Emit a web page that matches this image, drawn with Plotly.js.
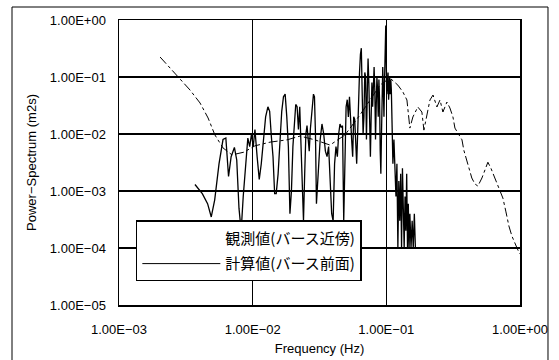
<!DOCTYPE html>
<html>
<head>
<meta charset="utf-8">
<script src="https://cdn.plot.ly/plotly-3.0.1.min.js"></script>
<style>html,body{margin:0;padding:0;background:#fff;}#chart{width:559px;height:360px;}</style>
</head>
<body>
<div id="chart"></div>
<script>
// Observed spectrum (観測値, バース近傍)
const obsFreq = [0.0037,0.0042,0.0046,0.0049,0.0052,0.0056,0.0060,0.0063,0.0066,0.0069,
  0.0073,0.0076,0.0079,0.0082,0.0085,0.0088,0.0092,0.0095,0.0098,0.0101,
  0.0104,0.0108,0.0112,0.0116,0.0120,0.0125,0.0130,0.0134,0.0138,0.0142,
  0.0146,0.0150,0.0155,0.0160,0.0165,0.0170,0.0175,0.0180,0.0185,0.0190,
  0.0195,0.0200,0.0205,0.0210,0.0215,0.0220,0.0225,0.0230,0.0235,0.0240,
  0.0245,0.0250,0.0255,0.0260,0.0265,0.0270,0.0275,0.0280,0.0285,0.0290,
  0.0295,0.0300,0.031,0.032,0.033,0.034,0.035,0.036,0.037,0.038,
  0.039,0.040,0.041,0.042,0.043,0.044,0.045,0.046,0.047,0.048,
  0.049,0.050,0.051,0.052,0.053,0.054,0.055,0.056,0.057,0.058,
  0.059,0.060,0.061,0.062,0.063,0.064,0.065,0.066,0.067,0.068,
  0.069,0.070,0.071,0.072,0.073,0.074,0.075,0.076,0.077,0.078,
  0.079,0.080,0.081,0.082,0.083,0.084,0.085,0.086,0.087,0.088,
  0.089,0.090,0.091,0.092,0.093,0.094,0.095,0.096,0.097,0.098,
  0.099,0.100,0.101,0.102,0.103,0.104,0.105,0.106,0.107,0.108,
  0.109,0.110,0.112,0.114,0.116,0.118,0.120,0.122,0.124,0.126,
  0.128,0.130,0.132,0.134,0.136,0.138,0.140,0.142,0.144,0.146,
  0.148,0.150,0.153,0.156,0.159,0.162,0.165];
const obsPower = [0.0013,0.0009,0.0006,0.00035,0.0007,0.003,0.008,0.0085,0.0018,0.004,
  0.0058,0.0035,0.0005,0.0002,0.0008,0.0025,0.0085,0.006,0.010,0.006,
  0.012,0.004,0.0016,0.003,0.008,0.02,0.03,0.025,0.009,0.004,
  0.0009,0.0009,0.002,0.008,0.025,0.045,0.05,0.02,0.006,0.0004,
  0.001,0.006,0.012,0.033,0.03,0.012,0.03,0.008,0.0012,0.0003,
  0.002,0.01,0.014,0.008,0.005,0.012,0.02,0.04,0.05,0.045,
  0.01,0.0006,0.003,0.008,0.015,0.01,0.005,0.004,0.006,0.002,
  0.0004,0.0003,0.003,0.006,0.004,0.01,0.015,0.013,0.014,0.0003,
  0.005,0.03,0.04,0.02,0.045,0.012,0.008,0.004,0.02,0.018,
  0.006,0.003,0.01,0.05,0.12,0.25,0.32,0.05,0.01,0.02,
  0.12,0.1,0.008,0.05,0.21,0.08,0.01,0.004,0.02,0.08,
  0.03,0.09,0.15,0.06,0.008,0.03,0.1,0.06,0.02,0.09,
  0.04,0.005,0.002,0.01,0.05,0.15,0.06,0.02,0.09,0.4,
  0.8,0.15,0.05,0.08,0.12,0.04,0.08,0.1,0.05,0.09,
  0.06,0.01,0.003,0.008,0.002,0.0008,0.003,0.0001,0.0015,0.0003,
  0.002,0.0001,0.0025,0.0003,0.0001,0.0008,0.0002,0.002,0.0001,0.0006,
  0.0001,0.0004,0.0001,0.0003,0.0001,0.0004,0.0001];

// Computed spectrum (計算値, バース前面)
const calcFreq = [0.00203,0.00262,0.0034,0.00404,0.00464,0.00522,0.0060,0.0070,0.0086,0.0104,
  0.0135,0.0181,0.0226,0.0292,0.0379,0.049,0.0635,0.0753,0.0895,0.1064,
  0.122,0.133,0.1426,0.150,0.158,0.172,0.1845,0.191,0.201,0.212,
  0.2235,0.239,0.252,0.265,0.284,0.299,0.315,0.326,0.343,0.368,
  0.38,0.394,0.407,0.421,0.436,0.46,0.484,0.519,0.546,0.575,
  0.605,0.638,0.672,0.708,0.745,0.785,0.826,0.87,0.916,0.964,1.0];
const calcPower = [0.224,0.117,0.059,0.035,0.0191,0.0096,0.0057,0.0043,0.0048,0.0062,
  0.0072,0.0079,0.0092,0.0079,0.0064,0.0096,0.0216,0.039,0.072,0.096,
  0.072,0.0546,0.0395,0.0127,0.0199,0.0298,0.0243,0.0117,0.0216,0.0395,
  0.0483,0.0298,0.0395,0.0243,0.0364,0.0286,0.0199,0.0127,0.0104,0.0079,
  0.0052,0.0038,0.0032,0.00233,0.00169,0.00133,0.00122,0.00169,0.00233,0.0032,
  0.00253,0.00183,0.00144,0.00104,0.00075,0.00043,0.000243,0.000162,0.000117,0.0000923,0.0000785];

const seriesNames = ['観測値(バース近傍)', '計算値(バース前面)'];
const xTickVals = [0.001, 0.01, 0.1, 1];
const xTickText = ['1.00E\u221203', '1.00E\u221202', '1.00E\u221201', '1.00E+00'];
const yTickVals = [1e-5, 1e-4, 1e-3, 1e-2, 1e-1, 1];
const yTickText = ['1.00E\u221205', '1.00E\u221204', '1.00E\u221203', '1.00E\u221202', '1.00E\u221201', '1.00E+00'];

const traces = [
  {x: calcFreq, y: calcPower, type: 'scatter', mode: 'lines', showlegend: false,
   line: {color: '#000', width: 1, dash: 'dashdot'}},
  {x: obsFreq, y: obsPower, type: 'scatter', mode: 'lines', showlegend: false,
   line: {color: '#000', width: 1.3}},
  {x: [null], y: [null], type: 'scatter', mode: 'lines', name: seriesNames[0], legendgroup: 'obs',
   line: {color: 'rgba(0,0,0,0)', width: 1}},
  {x: [null], y: [null], type: 'scatter', mode: 'lines', name: seriesNames[1], legendgroup: 'calc',
   line: {color: '#000', width: 1}}
];

const axisFont = {family: 'Liberation Sans, Arial, sans-serif', size: 13, color: '#000'};
const layout = {
  width: 559, height: 360,
  margin: {l: 119, r: 39, t: 20, b: 55, pad: 0},
  paper_bgcolor: '#fff', plot_bgcolor: '#fff',
  font: axisFont,
  xaxis: {
    type: 'log', range: [-3, 0], tickvals: xTickVals, ticktext: xTickText,
    showgrid: true, gridcolor: '#000', gridwidth: 1,
    showline: true, linecolor: '#000', linewidth: 1.5, mirror: true,
    zeroline: false, ticks: '', ticklabelstandoff: 12, tickfont: axisFont,
    title: {text: 'Frequency (Hz)', font: axisFont, standoff: 8}
  },
  yaxis: {
    type: 'log', range: [-5, 0], tickvals: yTickVals, ticktext: yTickText,
    showgrid: true, gridcolor: '#000', gridwidth: 1.5,
    showline: true, linecolor: '#000', linewidth: 1.5, mirror: true,
    zeroline: false, ticks: '', ticklabelstandoff: 9, tickfont: axisFont,
    title: {text: 'Power\u2212Spectrum (m2s)', font: axisFont, standoff: 10}
  },
  legend: {
    x: 0.042, y: 0.297, xanchor: 'left', yanchor: 'top',
    bgcolor: '#fff', bordercolor: '#000', borderwidth: 1.5,
    font: {family: 'Noto Sans CJK JP, sans-serif', size: 15, color: '#000'},
    itemwidth: 78, tracegroupgap: 3, traceorder: 'grouped'
  },
  shapes: [
    {type: 'rect', xref: 'paper', yref: 'paper', x0: -0.2668, x1: 1.0698, y0: -0.2, y1: 1.0456,
     line: {color: '#000', width: 1}, fillcolor: 'rgba(0,0,0,0)', layer: 'below'}
  ],
  showlegend: true
};

Plotly.newPlot('chart', traces, layout, {displayModeBar: false, staticPlot: true});
</script>
</body>
</html>
